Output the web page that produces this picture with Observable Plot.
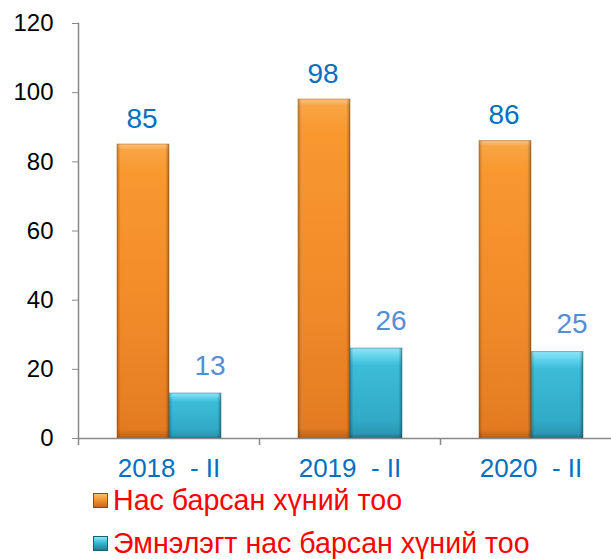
<!DOCTYPE html>
<html>
<head>
<meta charset="utf-8">
<script src="https://cdn.jsdelivr.net/npm/d3@7"></script>
<script src="https://cdn.jsdelivr.net/npm/@observablehq/plot@0.6"></script>
<style>
  html, body { margin: 0; padding: 0; background: #fff; }
  body { width: 611px; height: 559px; overflow: hidden; font-family: "Liberation Sans", Arial, sans-serif; }
  svg text { white-space: pre; }
  #legend { margin-left: 93px; margin-top: -2px; }
  .row { display: flex; align-items: center; height: 43px; }
  .sw { width: 15px; height: 15px; margin-right: 5px; box-sizing: border-box; flex: none; }
  .lbl { color: #FF0000; font-size: 28.6px; line-height: 1; white-space: nowrap; }
</style>
</head>
<body>
<div id="chart"></div>
<div id="legend"></div>
<script>
const categories = ["2018  - II", "2019  - II", "2020  - II"];
const deaths = [85, 98, 86];
const hospitalDeaths = [13, 26, 25];
const seriesNames = ["Нас барсан хүний тоо", "Эмнэлэгт нас барсан хүний тоо"];
const yTicks = [0, 20, 40, 60, 80, 100, 120];

const rows = categories.map((c, i) => ({category: c, deaths: deaths[i], hosp: hospitalDeaths[i]}));

const plot = Plot.plot({
  width: 611,
  height: 481,
  marginTop: 23,
  marginBottom: 43,
  marginLeft: 78,
  marginRight: 0,
  style: {fontFamily: "'Liberation Sans', Arial, sans-serif", background: "transparent", overflow: "visible"},
  x: {domain: categories, range: [78, 621], padding: 0, label: null},
  y: {domain: [0, 120], label: null},
  marks: [
    Plot.barY(rows, {x: "category", y: "deaths", fill: "url(#gOrange)", insetLeft: 39, insetRight: 90, stroke: "#a85a14", strokeOpacity: 0.5, strokeWidth: 1}),
    Plot.barY(rows, {x: "category", y: "deaths", fill: "url(#gEdge)", insetLeft: 39, insetRight: 90}),
    Plot.barY(rows, {x: "category", y: "hosp", fill: "url(#gCyan)", insetLeft: 91, insetRight: 38, stroke: "#1f6f85", strokeOpacity: 0.5, strokeWidth: 1}),
    Plot.barY(rows, {x: "category", y: "hosp", fill: "url(#gEdge)", insetLeft: 91, insetRight: 38}),
    Plot.ruleY([0], {stroke: "#898989", strokeWidth: 1.5}),
    Plot.frame({anchor: "left", stroke: "#898989", strokeWidth: 1.5}),
    Plot.ruleX(categories, {x: d => d, dx: -90.5, y1: 0, y2: 0, insetBottom: -7, stroke: "#898989", strokeWidth: 1.5}),
    Plot.axisY({ticks: yTicks, tickSize: 6, tickPadding: 19, fontSize: 24, color: "#000", stroke: "#898989", label: null}),
    Plot.axisX({tickSize: 0, tickPadding: 20, fontSize: 26, color: "#0070C0", label: null}),
    Plot.text(rows, {x: "category", y: "deaths", text: "deaths", dx: -27, dy: -26, fontSize: 28, fill: "#0070C0"}),
    Plot.text(rows, {x: "category", y: "hosp", text: "hosp", dx: 41, dy: -28, fontSize: 28, fill: "#558ED5"})
  ]
});

const ns = "http://www.w3.org/2000/svg";
const defs = document.createElementNS(ns, "defs");
function grad(id, horizontal, stops) {
  const g = document.createElementNS(ns, "linearGradient");
  g.setAttribute("id", id);
  g.setAttribute("x1", "0"); g.setAttribute("y1", "0");
  g.setAttribute("x2", horizontal ? "1" : "0"); g.setAttribute("y2", horizontal ? "0" : "1");
  for (const [o, c, a] of stops) {
    const s = document.createElementNS(ns, "stop");
    s.setAttribute("offset", o);
    s.setAttribute("stop-color", c);
    s.setAttribute("stop-opacity", a == null ? 1 : a);
    g.appendChild(s);
  }
  defs.appendChild(g);
}
grad("gOrange", false, [["0", "#fcc27a"], ["0.02", "#f9a443"], ["0.1", "#f8982f"], ["0.6", "#f08a29"], ["0.97", "#e47b22"], ["1", "#b8621a"]]);
grad("gCyan", false, [["0", "#8fe6f7"], ["0.12", "#55cde8"], ["0.2", "#3cbcd8"], ["0.8", "#31aac6"], ["0.95", "#2a98b4"], ["1", "#1f6f85"]]);
grad("gEdge", true, [["0", "#000", 0.22], ["0.07", "#000", 0.0], ["0.93", "#000", 0.0], ["1", "#000", 0.3]]);
const svg = plot.tagName.toLowerCase() === "svg" ? plot : plot.querySelector("svg");
svg.insertBefore(defs, svg.firstChild);
document.getElementById("chart").appendChild(plot);

const swatches = [
  "linear-gradient(#f9c070, #f39a33 40%, #c8671c)",
  "linear-gradient(#8fe6f7, #3cbcd8 40%, #1f7d95)"
];
const legend = document.getElementById("legend");
seriesNames.forEach((name, i) => {
  const row = document.createElement("div");
  row.className = "row";
  const sw = document.createElement("div");
  sw.className = "sw";
  sw.style.background = swatches[i];
  sw.style.border = "1px solid " + (i === 0 ? "#8a4a10" : "#1a5f70");
  const lbl = document.createElement("span");
  lbl.className = "lbl";
  lbl.textContent = name;
  row.appendChild(sw);
  row.appendChild(lbl);
  legend.appendChild(row);
});
</script>
</body>
</html>
